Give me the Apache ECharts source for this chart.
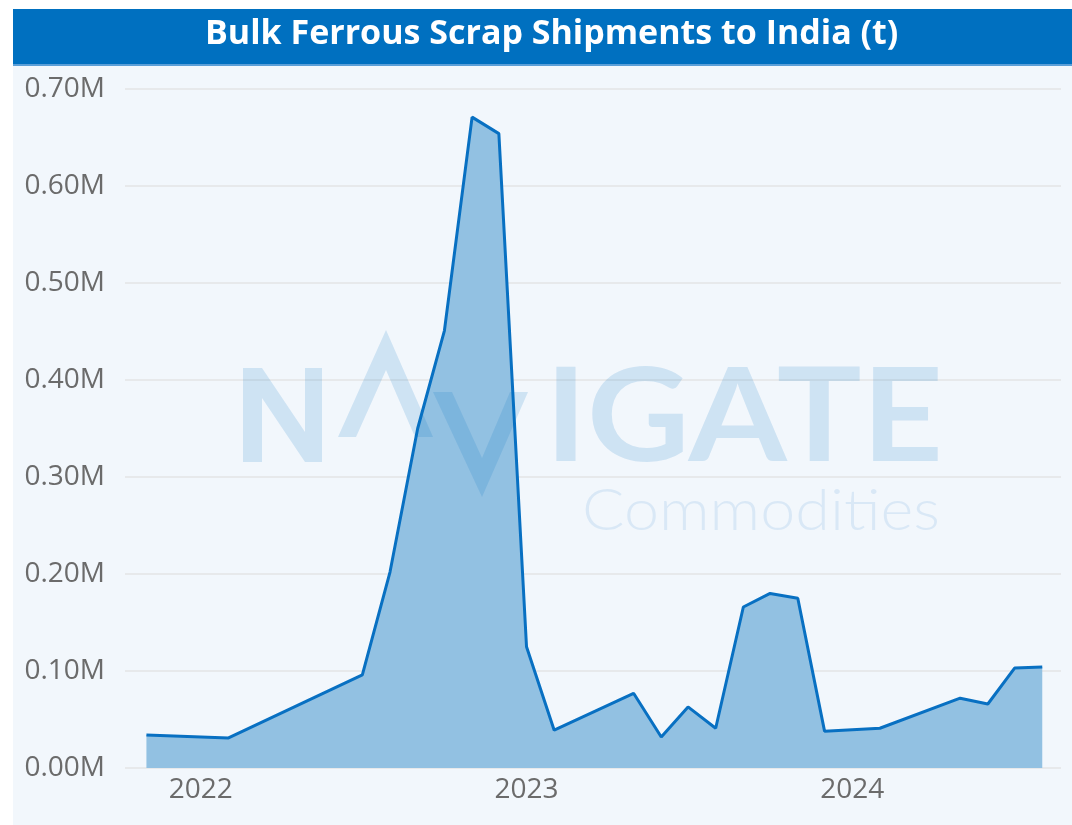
<!DOCTYPE html>
<html>
<head>
<meta charset="utf-8">
<script src="https://cdn.jsdelivr.net/npm/echarts@6/dist/echarts.min.js"></script>
<style>
  html, body { margin: 0; padding: 0; background: #ffffff; }
  #main { width: 1072px; height: 825px; }
</style>
</head>
<body>
<div id="main"></div>
<script>
var myChart = echarts.init(document.getElementById('main'));

// monthly shipments, tonnes (months with no data are simply missing)
var months = ['2021-11', '2022-02', '2022-07', '2022-08', '2022-09', '2022-10', '2022-11', '2022-12',
              '2023-01', '2023-02', '2023-05', '2023-06', '2023-07', '2023-08', '2023-09', '2023-10',
              '2023-11', '2023-12', '2024-02', '2024-05', '2024-06', '2024-07', '2024-08'];
var tonnes = [34000, 31000, 96000, 202000, 350000, 451000, 671000, 654000,
              125000, 39000, 77000, 32000, 63000, 41000, 166000, 180000,
              175000, 38000, 41000, 72000, 66000, 103000, 104000];
var yearTicks = ['2022', '2023', '2024'];

var DAY = 86400000;
var origin = Date.UTC(2022, 0, 1);
function dayOf(s) {
    var p = s.split('-');
    return (Date.UTC(+p[0], +p[1] - 1, 1) - origin) / DAY;
}
var seriesData = months.map(function (m, i) { return [dayOf(m), tonnes[i]]; });
var yearDays = yearTicks.map(function (y) { return dayOf(y + '-01'); });

// stretch watermark words to the logo's width
var ctx = document.createElement('canvas').getContext('2d');
function fitScale(text, font, width) {
    ctx.font = font;
    return width / ctx.measureText(text).width;
}
var wm = 'rgba(0,112,192,0.15)';
var bigFont = '700 131px Lato';
var smallFont = '300 58px Lato';

option = {
    backgroundColor: '#ffffff',
    title: {
        text: 'Bulk Ferrous Scrap Shipments to India (t)',
        left: 200,
        top: 12,
        textStyle: {
            color: '#ffffff',
            fontFamily: 'Open Sans',
            fontWeight: 'bold',
            fontSize: 34
        }
    },
    grid: {
        left: 125,
        right: 11,
        top: 89,
        bottom: 57
    },
    xAxis: {
        type: 'value',
        min: -85,
        max: 964,
        axisLine: { show: false },
        axisTick: { show: false },
        splitLine: { show: false },
        axisLabel: {
            customValues: yearDays,
            margin: 8,
            color: '#6b6b6b',
            fontFamily: 'Open Sans',
            fontSize: 28,
            formatter: function (v) {
                return String(new Date(origin + v * DAY).getUTCFullYear());
            }
        }
    },
    yAxis: {
        type: 'value',
        min: 0,
        max: 700000,
        interval: 100000,
        axisLine: { show: false },
        axisTick: { show: false },
        splitLine: { lineStyle: { color: '#e7e9eb', width: 2 } },
        axisLabel: {
            margin: 20,
            color: '#6b6b6b',
            fontFamily: 'Open Sans',
            fontSize: 28,
            formatter: function (v) { return (v / 1e6).toFixed(2) + 'M'; }
        }
    },
    graphic: [
        { type: 'rect', z: -10, shape: { x: 13, y: 65, width: 1059, height: 760 }, style: { fill: '#f2f7fc' } },
        { type: 'rect', z: -9, shape: { x: 13, y: 9, width: 1059, height: 56 }, style: { fill: '#0070c0' } },
        { type: 'rect', z: -9, shape: { x: 13, y: 64, width: 1059, height: 2 }, style: { fill: '#5b9fd8' } },
        // watermark logo
        { type: 'polygon', z: 100, silent: true, shape: { points: [[243, 462], [243, 368], [262, 368], [305, 432], [305, 368], [322, 368], [322, 462], [305, 462], [262, 398], [262, 462]] }, style: { fill: wm } },
        { type: 'polygon', z: 100, silent: true, shape: { points: [[338, 437], [386, 330], [433, 437], [415, 437], [386, 370], [356, 437]] }, style: { fill: wm } },
        { type: 'polygon', z: 100, silent: true, shape: { points: [[433, 392], [452, 392], [482, 458], [510, 392], [528, 392], [482, 497]] }, style: { fill: wm } },
        { type: 'text', z: 100, silent: true, x: 545, y: 484, scaleX: fitScale('IGATE', bigFont, 398),
          style: { text: 'IGATE', x: 0, y: 0, textVerticalAlign: 'bottom', fill: wm, font: bigFont } },
        { type: 'text', z: 100, silent: true, x: 582, y: 540, scaleX: fitScale('Commodities', smallFont, 358),
          style: { text: 'Commodities', x: 0, y: 0, textVerticalAlign: 'bottom', fill: 'rgba(0,112,192,0.10)', font: smallFont } }
    ],
    series: [
        {
            type: 'line',
            data: seriesData,
            showSymbol: false,
            lineStyle: { color: '#0870c2', width: 3 },
            areaStyle: { color: '#92c1e2', opacity: 1 }
        }
    ]
};

myChart.setOption(option);
</script>
</body>
</html>
